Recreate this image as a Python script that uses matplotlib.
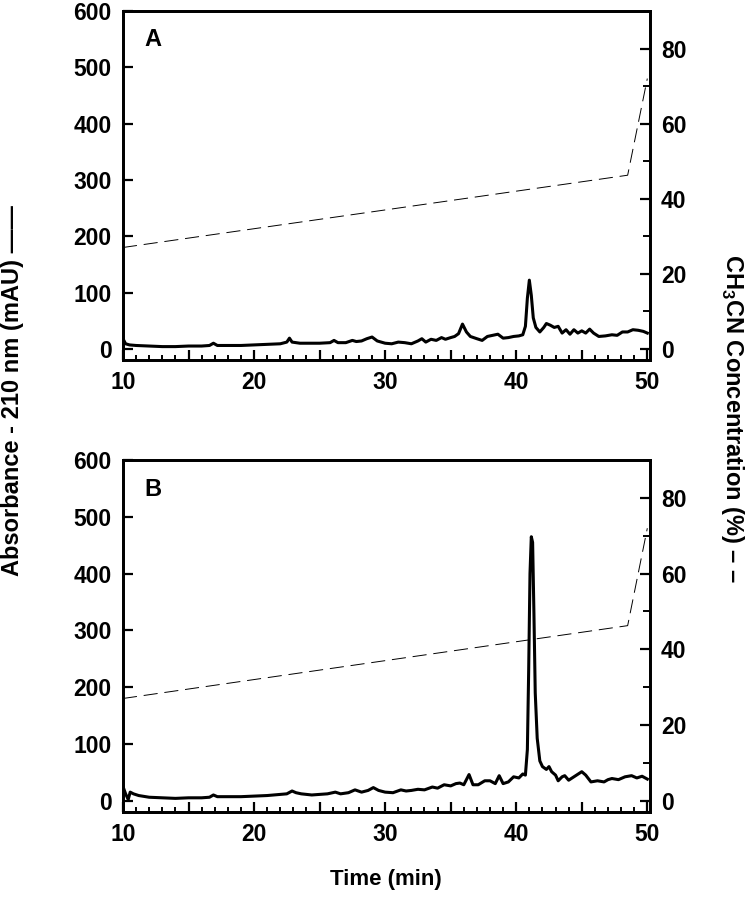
import numpy as np
import matplotlib
matplotlib.use("Agg")
import matplotlib.pyplot as plt
from matplotlib.ticker import MultipleLocator, FuncFormatter

plt.rcParams['font.family'] = ['Liberation Sans', 'DejaVu Sans']
plt.rcParams['font.weight'] = 'bold'
plt.rcParams['mathtext.fontset'] = 'custom'
plt.rcParams['mathtext.rm'] = 'Liberation Sans:bold'
plt.rcParams['mathtext.bf'] = 'Liberation Sans:bold'

# Panel A chromatogram (time in min, absorbance in mAU)
time_a = [10.0, 10.2, 10.5, 11, 12, 13, 14, 15, 16, 16.6, 16.9, 17.2, 18, 19, 20, 21, 22,
          22.5, 22.7, 22.9, 23.5, 24, 25, 25.8, 26.1, 26.4, 27, 27.5, 27.8, 28.2, 28.6, 29,
          29.4, 30, 30.5, 31, 31.5, 32, 32.5, 32.8, 33.1, 33.5, 33.9, 34.3, 34.6, 35, 35.3,
          35.6, 35.9, 36.2, 36.5, 37, 37.4, 37.8, 38.2, 38.6, 39, 39.4, 39.8, 40.2, 40.5,
          40.7, 40.85, 41.0, 41.15, 41.3, 41.5, 41.8, 42.1, 42.3, 42.6, 42.9, 43.2, 43.5,
          43.8, 44.1, 44.4, 44.7, 45, 45.3, 45.6, 45.9, 46.3, 46.8, 47.3, 47.7, 48.1, 48.5,
          48.9, 49.3, 49.7, 50.0]
abs_a = [18, 9, 7, 6, 5, 4, 4, 5, 5, 6, 10, 6, 6, 6, 7, 8, 9,
         12, 19, 12, 10, 10, 10, 11, 15, 11, 11, 15, 13, 14, 18, 21,
         14, 10, 9, 12, 11, 9, 14, 18, 12, 17, 15, 20, 17, 20, 22,
         27, 44, 30, 22, 18, 15, 22, 24, 26, 19, 20, 22, 23, 25,
         40, 90, 122, 95, 55, 38, 30, 38, 45, 42, 38, 40, 28,
         34, 26, 34, 28, 32, 28, 35, 28, 22, 23, 25, 24, 30, 30,
         34, 33, 31, 28]

# Panel B chromatogram
time_b = [10.0, 10.2, 10.4, 10.55, 10.8, 11.2, 12, 13, 14, 15, 16, 16.6, 16.9, 17.2, 18, 19,
          20, 21, 21.5, 22, 22.5, 22.9, 23.2, 23.6, 24.4, 25, 25.6, 26.2, 26.6, 27.2, 27.7,
          28.2, 28.7, 29.1, 29.5, 30, 30.6, 31.2, 31.6, 32, 32.5, 33, 33.6, 34, 34.5, 35,
          35.4, 35.7, 36, 36.4, 36.7, 37.1, 37.6, 38, 38.4, 38.7, 39, 39.4, 39.8, 40.2, 40.5,
          40.7, 40.85, 40.95, 41.05, 41.15, 41.25, 41.35, 41.45, 41.6, 41.8, 42.0, 42.3,
          42.5, 42.7, 43.0, 43.2, 43.5, 43.7, 44.0, 44.2, 44.6, 45.0, 45.3, 45.7, 46.2,
          46.7, 47.0, 47.3, 47.8, 48.3, 48.8, 49.2, 49.6, 50.0]
abs_b = [25, 12, 2, 15, 12, 9, 6, 5, 4, 5, 5, 6, 10, 7, 7, 7,
         8, 9, 10, 11, 12, 17, 14, 12, 10, 11, 12, 15, 12, 14, 19,
         15, 18, 23, 18, 15, 14, 19, 17, 18, 20, 19, 24, 22, 28, 26,
         30, 31, 28, 46, 28, 28, 35, 35, 30, 44, 30, 33, 42, 40, 47,
         45, 90, 230, 400, 465, 455, 330, 190, 110, 70, 60, 55,
         60, 51, 45, 35, 42, 44, 36, 39, 45, 51, 45, 33, 35,
         33, 37, 39, 37, 42, 44, 40, 43, 38]

# acetonitrile gradient (%)
grad_time = [10, 48.5, 50]
grad_pct = [27, 46.25, 72]

panels = [("A", time_a, abs_a), ("B", time_b, abs_b)]
positions = [[0.1644, 0.606, 0.7045, 0.382], [0.1644, 0.1116, 0.7045, 0.385]]

fig = plt.figure(figsize=(7.48, 9.14), dpi=100)

for (label, t, a), pos in zip(panels, positions):
    ax = fig.add_axes(pos)
    ax.plot(t, a, color='black', lw=2.2, solid_joinstyle='round')
    ax.set_xlim(10, 50.2)
    ax.set_ylim(-20, 600)
    ax.xaxis.set_major_locator(MultipleLocator(5))
    ax.xaxis.set_minor_locator(MultipleLocator(1))
    ax.xaxis.set_major_formatter(FuncFormatter(lambda v, p: f"{v:.0f}" if v % 10 == 0 else ""))
    ax.yaxis.set_major_locator(MultipleLocator(100))
    ax.tick_params(direction='in', which='major', length=7, width=1.6, labelsize=16.5, pad=8)
    ax.tick_params(direction='in', which='minor', length=3.5, width=1.4)
    ax.tick_params(axis='y', right=False)
    for s in ax.spines.values():
        s.set_linewidth(2)
    for lab in ax.get_xticklabels() + ax.get_yticklabels():
        lab.set_fontweight('bold')
    ax.text(0.04, 0.917, label, transform=ax.transAxes, fontsize=17,
            fontweight='bold', ha='left', va='center')

    ax2 = ax.twinx()
    ax2.plot(grad_time, grad_pct, color='black', lw=0.7, dashes=(14.5, 7))
    ax2.set_ylim(-3, 90)
    ax2.yaxis.set_major_locator(MultipleLocator(20))
    ax2.yaxis.set_minor_locator(MultipleLocator(10))
    ax2.tick_params(direction='in', which='major', length=7, width=1.6, labelsize=16.5, pad=8)
    ax2.tick_params(direction='in', which='minor', length=5, width=1.4)
    for s in ax2.spines.values():
        s.set_linewidth(2)
    for lab in ax2.get_yticklabels():
        lab.set_fontweight('bold')

fig.text(0.002, 0.573, "Absorbance - 210 nm (mAU) \u2014\u2014", rotation=90,
         fontsize=17, fontweight='bold', ha='left', va='center')
fig.text(0.997, 0.542, "CH$_{\\mathbf{3}}$CN Concentration (%) \u2013 \u2013",
         rotation=270, fontsize=17, fontweight='bold', ha='right', va='center')
fig.text(0.5165, 0.038, "Time (min)", fontsize=16, fontweight='bold',
         family=['Liberation Sans Narrow', 'Liberation Sans'], ha='center', va='center')

fig.savefig("out.png", dpi=100)
